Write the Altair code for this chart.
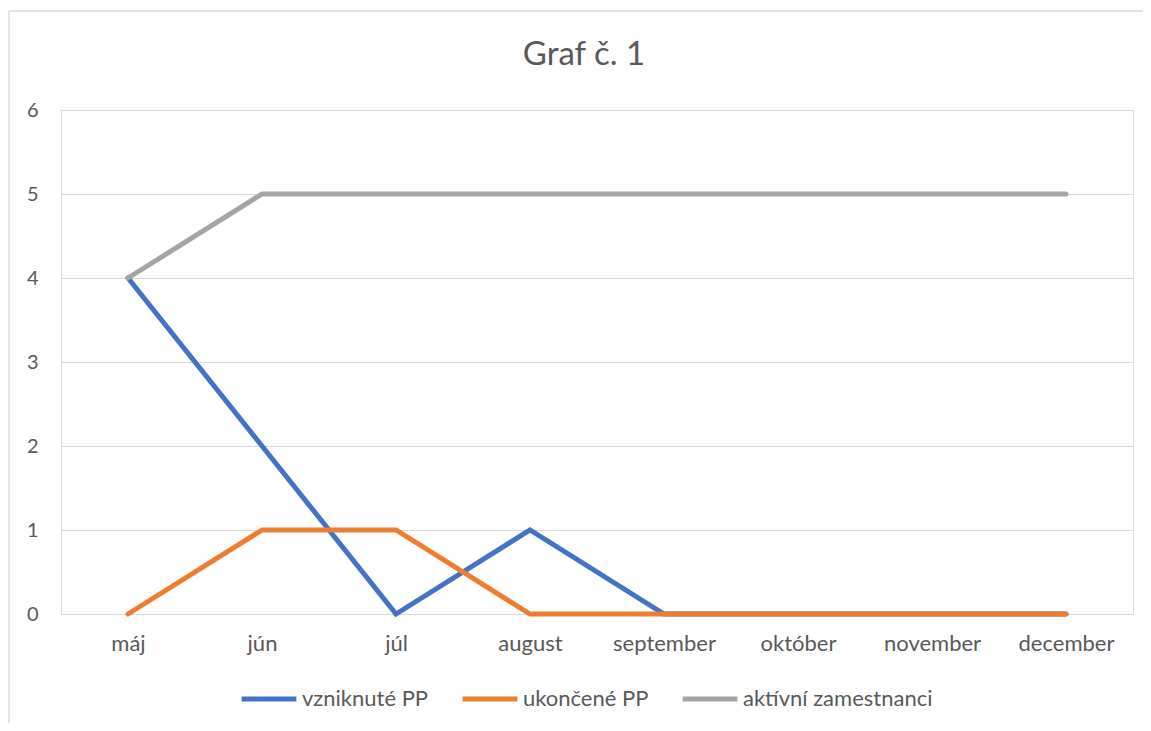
import altair as alt
import pandas as pd

months = ["máj", "jún", "júl", "august", "september", "október", "november", "december"]
series_names = ["vzniknuté PP", "ukončené PP", "aktívní zamestnanci"]
vzniknute = [4, 2, 0, 1, 0, 0, 0, 0]
ukoncene = [0, 1, 1, 0, 0, 0, 0, 0]
aktivni = [4, 5, 5, 5, 5, 5, 5, 5]
colors = ["#4472C4", "#ED7D31", "#A5A5A5"]
y_ticks = [0, 1, 2, 3, 4, 5, 6]
title_text = "Graf č. 1"

rows = []
for name, vals in zip(series_names, [vzniknute, ukoncene, aktivni]):
    for m, v in zip(months, vals):
        rows.append({"mesiac": m, "hodnota": v, "séria": name})
df = pd.DataFrame(rows)

FONT = "Lato"
TXT = "#595959"

lines = alt.Chart(df).mark_line(strokeWidth=5, strokeCap="round", strokeJoin="miter").encode(
    x=alt.X("mesiac:N", sort=months,
            scale=alt.Scale(type="point", padding=0.5),
            axis=alt.Axis(title=None, labelAngle=0, ticks=False, domain=False, grid=False,
                          labelPadding=19, labelFontSize=22, labelColor=TXT, labelFont=FONT)),
    y=alt.Y("hodnota:Q", scale=alt.Scale(domain=[0, 6], nice=False),
            axis=alt.Axis(title=None, values=y_ticks, ticks=False, domain=False,
                          gridColor="#D9D9D9", gridWidth=1.2, labelPadding=23,
                          labelFontSize=20, labelColor=TXT, labelFont=FONT)),
    color=alt.Color("séria:N", sort=series_names,
                    scale=alt.Scale(domain=series_names, range=colors),
                    legend=alt.Legend(title=None, orient="none", direction="horizontal",
                                      legendX=178, legendY=559,
                                      symbolType="stroke", symbolSize=3000, symbolStrokeWidth=5,
                                      labelFontSize=22, labelColor=TXT, labelFont=FONT,
                                      labelOffset=3, columnPadding=23, labelLimit=400)),
    order=alt.Order("order:Q"),
).transform_calculate(
    order="datum['séria'] == 'aktívní zamestnanci' ? 0 : (datum['séria'] == 'vzniknuté PP' ? 1 : 2)"
)

title = alt.Chart(pd.DataFrame({"t": [title_text]})).mark_text(
    font=FONT, fontSize=33, color=TXT, align="center", baseline="alphabetic"
).encode(text="t:N", x=alt.value(523), y=alt.value(-45))

frame_df = pd.DataFrame({"a": [0]})
border_top = alt.Chart(frame_df).mark_rule(stroke="#D9D9D9", strokeWidth=1.5).encode(
    x=alt.value(-52), x2=alt.value(1130), y=alt.value(-99))
border_left = alt.Chart(frame_df).mark_rule(stroke="#D9D9D9", strokeWidth=1.5).encode(
    x=alt.value(-52), y=alt.value(-99), y2=alt.value(700))

chart = alt.layer(border_top, border_left, lines, title).properties(
    width=1072, height=504,
    autosize=alt.AutoSizeParams(type="none"),
    padding={"left": 53, "top": 102, "right": 10, "bottom": 109},
).configure_view(stroke=None).configure(background="white")

chart.save("out.html", embed_options={"renderer": "svg", "actions": False})
